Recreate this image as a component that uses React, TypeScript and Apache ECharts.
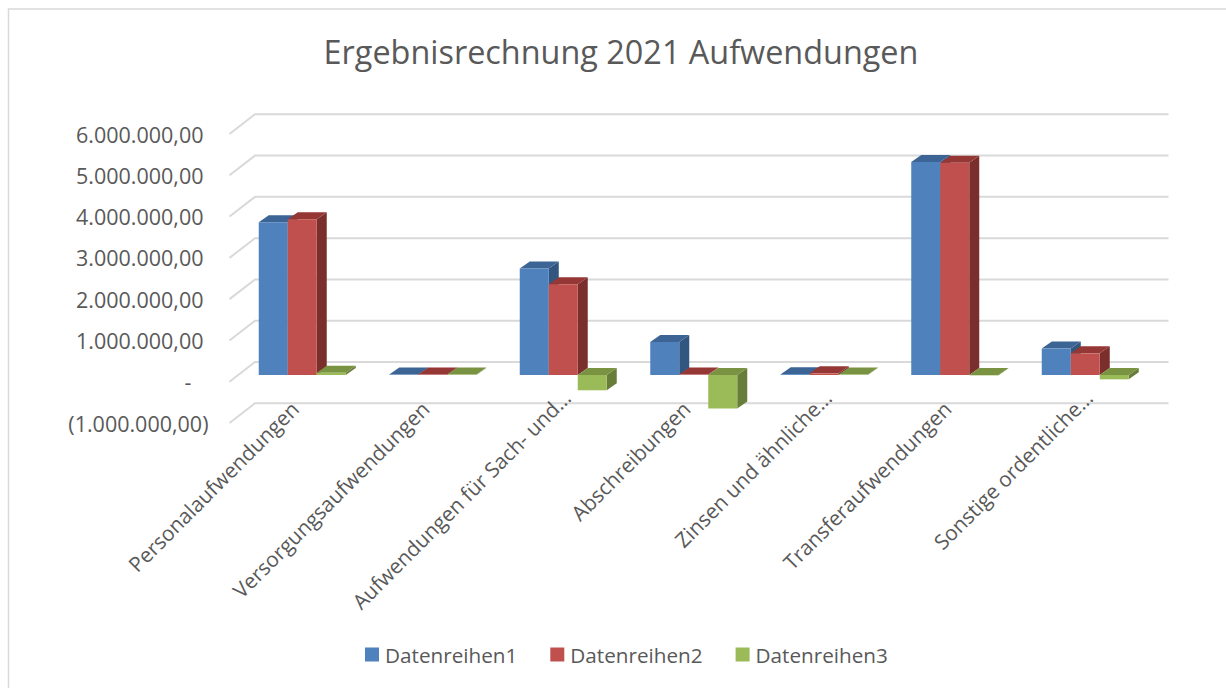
import React, { useEffect, useRef } from "react";
import * as echarts from "echarts";

const categories = [
  "Personalaufwendungen",
  "Versorgungsaufwendungen",
  "Aufwendungen für Sach- und…",
  "Abschreibungen",
  "Zinsen und ähnliche…",
  "Transferaufwendungen",
  "Sonstige ordentliche…",
];
const reihe1 = [3700000, 10000, 2580000, 800000, 20000, 5157000, 640000];
const reihe2 = [3770000, 10000, 2200000, 10000, 40000, 5140000, 525000];
const reihe3 = [55000, 10000, -370000, -813000, 10000, -10000, -105000];
const seriesNames = ["Datenreihen1", "Datenreihen2", "Datenreihen3"];
const gridValues = [-1000000, 0, 1000000, 2000000, 3000000, 4000000, 5000000, 6000000];

const FONT = "'Open Sans', sans-serif";
const TEXT = "#595959";
const GRID = "#d9d9d9";
const WALL_DX = 25.5;
const WALL_DY = 19.7;
const PLANE_DX = 7.5;
const PLANE_DY = 6.7;
const DEPTH_DX = 10;
const DEPTH_DY = 7;
const LABEL_RISE = 18;
const ELLIPSIS_SHIFT = 11;

const palette = [
  { front: "#4f81bd", top: "#3c6595", side: "#31567f" },
  { front: "#c0504d", top: "#953735", side: "#7a2f2d" },
  { front: "#9bbb59", top: "#7a9342", side: "#677d39" },
];

function fmt(v: number) {
  if (v === 0) return "{zero|-}";
  const s = Math.abs(v).toLocaleString("de-DE") + ",00";
  return v < 0 ? `{neg|(${s})}` : `{pos|${s}}`;
}

const barRender = (si: number) => (params: any, api: any) => {
  const c = palette[si];
  const idx = api.value(0);
  const val = api.value(1);
  const band = api.size([1, 0])[0];
  const w = band / 4.5;
  const p0 = api.coord([idx, 0]);
  const p1 = api.coord([idx, val]);
  const x = p0[0] + PLANE_DX - 1.5 * w + si * w;
  const y0 = p0[1] - PLANE_DY;
  const y1 = p1[1] - PLANE_DY;
  const t = Math.min(y0, y1);
  const b = Math.max(y0, y1);
  return {
    type: "group",
    children: [
      {
        type: "polygon",
        shape: { points: [[x + w, t], [x + w + DEPTH_DX, t - DEPTH_DY], [x + w + DEPTH_DX, b - DEPTH_DY], [x + w, b]] },
        style: { fill: c.side },
      },
      {
        type: "polygon",
        shape: { points: [[x, t], [x + DEPTH_DX, t - DEPTH_DY], [x + w + DEPTH_DX, t - DEPTH_DY], [x + w, t]] },
        style: { fill: c.top },
      },
      { type: "rect", shape: { x, y: t, width: w, height: b - t }, style: { fill: c.front } },
    ],
  };
};

const gridRender = (params: any, api: any) => {
  const y = api.coord([0, api.value(0)])[1];
  const left = params.coordSys.x;
  const right = left + params.coordSys.width;
  return {
    type: "polyline",
    shape: {
      points: [
        [left, y],
        [left + WALL_DX, y - WALL_DY],
        [right + WALL_DX, y - WALL_DY],
      ],
    },
    style: { stroke: GRID, lineWidth: 2, fill: "none" },
  };
};

const categoryLabelRender = (params: any, api: any) => {
  const i = params.dataIndex;
  const text = categories[i];
  const shift = text.endsWith("…") ? ELLIPSIS_SHIFT : 0;
  const p = api.coord([i, gridValues[0]]);
  return {
    type: "text",
    x: p[0] + shift,
    y: p[1] - LABEL_RISE - shift,
    rotation: Math.PI / 4,
    style: {
      text,
      fill: TEXT,
      font: `20.8px ${FONT}`,
      align: "right",
      verticalAlign: "middle",
    },
  };
};

const labelRich = (right: number) => ({
  color: TEXT,
  fontFamily: FONT,
  fontSize: 21.5,
  padding: [0, right, 0, 0],
});

export default function App() {
  const ref = useRef<HTMLDivElement>(null);
  useEffect(() => {
    const chart = echarts.init(ref.current!, null, { renderer: "svg" });
    const rows = [reihe1, reihe2, reihe3];
    chart.setOption({
      animation: false,
      backgroundColor: "#ffffff",
      title: {
        text: "Ergebnisrechnung 2021 Aufwendungen",
        left: 616,
        top: 30,
        textAlign: "center",
        textStyle: { fontFamily: FONT, fontSize: 32.4, fontWeight: "normal", color: TEXT },
      },
      legend: {
        data: seriesNames,
        left: 360,
        top: 639,
        itemWidth: 14,
        itemHeight: 14,
        itemGap: 33,
        icon: "rect",
        textStyle: { fontFamily: FONT, fontSize: 20.7, color: TEXT, padding: [0, 0, 0, 1] },
      },
      grid: { left: 229.5, width: 913.5, top: 134, height: 289 },
      xAxis: {
        type: "category",
        data: categories,
        axisLine: { show: false },
        axisTick: { show: false },
        axisLabel: { show: false },
      },
      yAxis: {
        type: "value",
        min: -1000000,
        max: 6000000,
        interval: 1000000,
        splitLine: { show: false },
        axisLine: { show: false },
        axisTick: { show: false },
        axisLabel: {
          margin: 21,
          color: TEXT,
          fontFamily: FONT,
          fontSize: 21.5,
          formatter: (v: number) => fmt(v),
          rich: { pos: labelRich(5), neg: labelRich(0), zero: labelRich(17) },
        },
      },
      graphic: [
        {
          type: "polyline",
          shape: { points: [[8.5, 688], [8.5, 9], [1226, 9]] },
          style: { fill: "none", stroke: GRID, lineWidth: 1.5 },
          silent: true,
        },
      ],
      series: [
        {
          type: "custom",
          silent: true,
          clip: false,
          legendHoverLink: false,
          renderItem: gridRender,
          encode: { y: 0 },
          data: gridValues.map((v) => [v]),
          z: 1,
        },
        {
          type: "custom",
          silent: true,
          clip: false,
          legendHoverLink: false,
          renderItem: categoryLabelRender,
          encode: { x: 0 },
          data: categories.map((_, i) => [i]),
          z: 1,
        },
        ...rows.map((row, si) => ({
          type: "custom",
          name: seriesNames[si],
          clip: false,
          itemStyle: { color: palette[si].front },
          renderItem: barRender(si),
          encode: { x: 0, y: 1 },
          data: row.map((v, i) => [i, v]),
          z: 2 + si,
        })),
      ],
    });
    return () => chart.dispose();
  }, []);
  return <div ref={ref} style={{ position: "absolute", left: 0, top: 0, width: 1226, height: 688 }} />;
}
